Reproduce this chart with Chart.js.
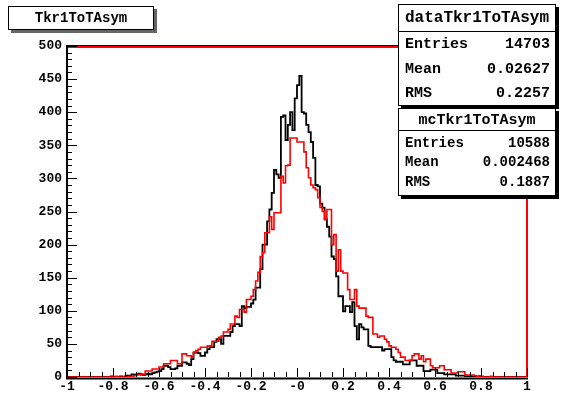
<!DOCTYPE html>
<html>
<head>
<meta charset="utf-8">
<script src="https://cdn.jsdelivr.net/npm/chart.js@4.4.0/dist/chart.umd.min.js"></script>
<style>
  html, body { margin: 0; padding: 0; background: #fff; }
</style>
</head>
<body>
<canvas id="c" width="570" height="393"></canvas>
<script>
// histogram binning: 200 bins from -1 to 1
const xMin = -1;
const xMax = 1;
const binWidth = 0.01;

// data (black)
const dataCounts = [
  0,0,0,0,0,0,0,0,0,0,0,0,0,0,0,0,0,0,0,0,
  1,0,0,0,1,0,1,2,2,4,3,4,5,4,3,4,5,4,6,7,
  8,9,12,17,17,15,12,12,13,17,17,22,22,20,18,27,37,37,36,32,
  32,37,42,45,45,53,57,57,50,62,62,62,68,77,80,80,77,107,104,106,
  106,111,117,135,135,163,200,200,235,253,278,313,306,301,393,395,358,381,400,373,
  421,441,455,400,398,381,370,355,331,290,288,262,256,238,227,212,182,178,152,122,
  122,99,107,107,98,113,77,57,80,75,72,72,47,45,45,45,45,45,40,42,
  42,42,30,25,23,23,23,19,19,19,25,25,25,17,17,17,9,9,9,11,
  11,11,6,6,6,4,4,4,4,4,2,2,2,2,1,1,1,0,0,0,
  1,0,0,0,0,0,0,0,0,0,0,0,0,0,0,0,0,0,0,0
];

// monte carlo (red)
const mcCounts = [
  0,0,0,0,0,0,0,0,0,0,0,0,0,0,0,0,0,0,0,0,
  0,0,1,0,0,0,0,0,1,0,2,3,4,3,4,9,9,9,12,12,
  12,15,15,20,20,20,25,25,25,20,20,35,35,32,32,30,37,40,42,45,
  45,45,47,47,54,54,54,60,62,68,68,72,80,80,92,90,102,102,98,117,
  117,122,132,145,158,182,188,218,218,242,223,248,248,248,303,293,319,320,361,361,
  361,355,355,355,340,316,301,290,286,283,271,256,250,238,253,253,200,215,160,192,
  160,157,157,132,117,117,132,107,104,104,104,92,90,90,65,65,60,62,62,57,
  53,47,45,45,42,37,30,30,25,25,25,32,35,35,27,32,23,27,27,17,
  14,14,14,17,17,11,11,11,6,6,6,8,8,8,3,3,3,3,2,1,
  2,1,0,0,0,1,0,0,0,0,0,0,0,0,0,0,0,0,0,0
];

const xTickValues = [-1, -0.8, -0.6, -0.4, -0.2, 0, 0.2, 0.4, 0.6, 0.8, 1];
const yTickValues = [0, 50, 100, 150, 200, 250, 300, 350, 400, 450, 500];

const histTitle = 'Tkr1ToTAsym';
const statNames = ['Entries', 'Mean', 'RMS'];
const dataStatTitle = 'dataTkr1ToTAsym';
const dataStats = ['14703', '0.02627', '0.2257'];
const mcStatTitle = 'mcTkr1ToTAsym';
const mcStats = ['10588', '0.002468', '0.1887'];

const MONO = '"Liberation Mono", "DejaVu Sans Mono", monospace';

function toSteps(counts) {
  const pts = counts.map((v, i) => ({ x: xMin + i * binWidth, y: v }));
  pts.push({ x: xMax, y: counts[counts.length - 1] });
  return pts;
}

function fmtX(v) {
  if (Math.abs(v) < 1e-9) return '-0';
  return String(Math.round(v * 10) / 10);
}

function drawBox(ctx, x0, y0, x1, y1, shadow) {
  ctx.fillStyle = shadow;
  ctx.fillRect(x0 + 3, y0 + 3, x1 - x0, y1 - y0);
  ctx.fillStyle = '#fff';
  ctx.fillRect(x0, y0, x1 - x0, y1 - y0);
  ctx.strokeStyle = '#000';
  ctx.lineWidth = 1;
  ctx.strokeRect(x0 + 0.5, y0 + 0.5, x1 - x0 - 1, y1 - y0 - 1);
}

function drawStats(ctx, box, title, values, sizes) {
  const [x0, y0, x1, y1, sep, titleY, rowsY] = box;
  drawBox(ctx, x0, y0, x1, y1, '#000');
  ctx.beginPath();
  ctx.moveTo(x0, sep + 0.5);
  ctx.lineTo(x1, sep + 0.5);
  ctx.stroke();
  ctx.fillStyle = '#000';
  ctx.textBaseline = 'middle';
  ctx.font = 'bold ' + sizes[0] + 'px ' + MONO;
  ctx.textAlign = 'center';
  ctx.fillText(title, (x0 + x1) / 2, titleY);
  ctx.font = 'bold ' + sizes[1] + 'px ' + MONO;
  statNames.forEach((n, i) => {
    ctx.textAlign = 'left';
    ctx.fillText(n, x0 + 7, rowsY[i]);
    ctx.textAlign = 'right';
    ctx.fillText(values[i], x1 - 6, rowsY[i]);
  });
}

const rootDecor = {
  id: 'rootDecor',
  afterDatasetsDraw(chart) {
    const ctx = chart.ctx;
    const a = chart.chartArea;
    const xs = chart.scales.x;
    const ys = chart.scales.y;
    ctx.save();

    // frame: top black + red, right red
    ctx.strokeStyle = '#000';
    ctx.lineWidth = 1;
    ctx.beginPath();
    ctx.moveTo(a.left, a.top - 0.5);
    ctx.lineTo(a.right, a.top - 0.5);
    ctx.stroke();
    ctx.strokeStyle = '#ff0000';
    ctx.lineWidth = 2;
    ctx.beginPath();
    ctx.moveTo(a.left, a.top + 1);
    ctx.lineTo(a.right, a.top + 1);
    ctx.moveTo(a.right, a.top);
    ctx.lineTo(a.right, a.bottom);
    ctx.stroke();

    // axes
    ctx.strokeStyle = '#000';
    ctx.lineWidth = 2;
    ctx.beginPath();
    ctx.moveTo(a.left, a.top - 1);
    ctx.lineTo(a.left, a.bottom + 2);
    ctx.moveTo(a.left - 1, a.bottom + 1.5);
    ctx.lineTo(a.right + 1, a.bottom + 1.5);
    ctx.stroke();

    // ticks
    ctx.lineWidth = 1;
    ctx.beginPath();
    for (let i = 0; i <= 40; i++) {
      const px = Math.round(xs.getPixelForValue(xMin + i * 0.05)) + 0.5;
      const len = i % 4 === 0 ? 9 : 5;
      ctx.moveTo(px, a.bottom);
      ctx.lineTo(px, a.bottom - len);
    }
    for (let i = 0; i <= 50; i++) {
      const py = Math.round(ys.getPixelForValue(i * 10)) + 0.5;
      const len = i % 5 === 0 ? 10 : 5;
      ctx.moveTo(a.left, py);
      ctx.lineTo(a.left + len, py);
    }
    ctx.stroke();

    // title box
    drawBox(ctx, 8, 6, 154, 30, '#666');
    ctx.fillStyle = '#000';
    ctx.font = 'bold 14px ' + MONO;
    ctx.textAlign = 'center';
    ctx.textBaseline = 'middle';
    ctx.fillText(histTitle, 81, 18);

    // stats boxes
    drawStats(ctx, [398, 4, 556, 106, 31, 18, [44, 69, 93]], dataStatTitle, dataStats, [16, 15]);
    drawStats(ctx, [398, 108, 556, 196, 130, 120, [143, 162, 182]], mcStatTitle, mcStats, [15, 14]);

    ctx.restore();
  }
};

const ctx = document.getElementById('c').getContext('2d');
const chart = new Chart(ctx, {
  type: 'line',
  data: {
    datasets: [
      {
        label: 'mc',
        data: toSteps(mcCounts),
        borderColor: '#ff0000',
        borderWidth: 1.6,
        stepped: 'after',
        pointRadius: 0,
        fill: false,
        order: 0
      },
      {
        label: 'data',
        data: toSteps(dataCounts),
        borderColor: '#000000',
        borderWidth: 1.8,
        stepped: 'after',
        pointRadius: 0,
        fill: false,
        order: 1
      }
    ]
  },
  options: {
    responsive: false,
    animation: false,
    events: [],
    devicePixelRatio: 1,
    layout: { padding: { top: 46, right: 43, left: 0, bottom: 0 } },
    plugins: { legend: { display: false }, tooltip: { enabled: false } },
    scales: {
      x: {
        type: 'linear',
        min: xMin,
        max: xMax,
        afterBuildTicks: s => { s.ticks = xTickValues.map(v => ({ value: v })); },
        afterFit: s => { s.height = 16; },
        grid: { display: false, drawTicks: false },
        border: { display: false },
        ticks: {
          autoSkip: false,
          maxRotation: 0,
          padding: 2,
          color: '#000',
          font: { family: MONO, size: 13, weight: 'bold' },
          callback: v => fmtX(v)
        }
      },
      y: {
        type: 'linear',
        min: 0,
        max: 500,
        afterBuildTicks: s => { s.ticks = yTickValues.map(v => ({ value: v })); },
        afterFit: s => { s.width = 67; },
        grid: { display: false, drawTicks: false },
        border: { display: false },
        ticks: {
          padding: 5,
          color: '#000',
          font: { family: MONO, size: 13, weight: 'bold' }
        }
      }
    }
  },
  plugins: [rootDecor]
});
</script>
</body>
</html>
